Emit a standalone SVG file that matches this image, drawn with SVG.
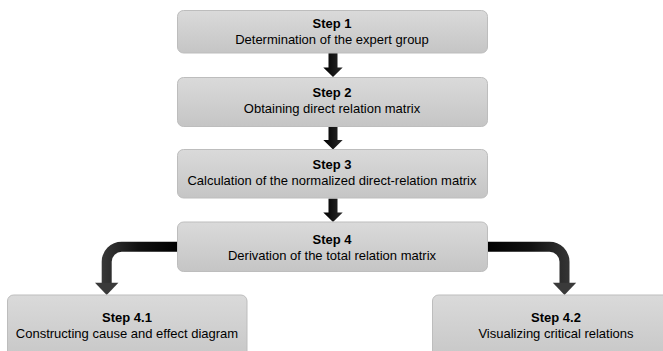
<svg xmlns="http://www.w3.org/2000/svg" width="663" height="351" viewBox="0 0 663 351">
<style>
.box{fill:url(#bg);stroke:#bdbdbd;stroke-width:1}
.t{font-family:"Liberation Sans",Arial,sans-serif;font-size:13px;fill:#000;text-anchor:middle}
.b{font-weight:bold}
.arr{fill:url(#ag)}
.curve{fill:none;stroke-width:10}
</style>
<defs>
<linearGradient id="bg" x1="0" y1="0" x2="0" y2="1">
<stop offset="0" stop-color="#dadada"/>
<stop offset="1" stop-color="#c5c5c5"/>
</linearGradient>
<linearGradient id="ag" x1="0" y1="0" x2="1" y2="0">
<stop offset="0" stop-color="#000"/>
<stop offset="1" stop-color="#2a2a2a"/>
</linearGradient>
<linearGradient id="lg" gradientUnits="userSpaceOnUse" x1="177" y1="0" x2="100" y2="0">
<stop offset="0" stop-color="#000"/>
<stop offset="0.5" stop-color="#111"/>
<stop offset="1" stop-color="#3a3a3a"/>
</linearGradient>
<linearGradient id="rg" gradientUnits="userSpaceOnUse" x1="487" y1="0" x2="575" y2="0">
<stop offset="0" stop-color="#000"/>
<stop offset="0.5" stop-color="#111"/>
<stop offset="1" stop-color="#3a3a3a"/>
</linearGradient>
</defs>
<g id="connectors">
<path class="arr" d="M328.5,53 H337.5 V67.5 H342.7 L333,77 L323.3,67.5 H328.5 Z"/>
<path class="arr" d="M328.5,127 H337.5 V140 H342.7 L333,149.5 L323.3,140 H328.5 Z"/>
<path class="arr" d="M328.5,198.5 H337.5 V212.5 H342.7 L333,222 L323.3,212.5 H328.5 Z"/>
<path class="curve" stroke="url(#lg)" d="M178,246.7 H121.7 A15,15 0 0 0 106.7,261.7 V283.5"/>
<path fill="#3a3a3a" d="M95,282.7 H118.4 L106.7,295 Z"/>
<path class="curve" stroke="url(#rg)" d="M486,246.7 H549.5 A15,15 0 0 1 564.5,261.7 V283.5"/>
<path fill="#3a3a3a" d="M552.8,282.7 H576.2 L564.5,295 Z"/>
</g>
<g id="step1">
<rect class="box" x="177.5" y="10.5" width="310" height="42.5" rx="6"/>
<text class="t b" x="332" y="28.3">Step 1</text>
<text class="t" x="332" y="44.3">Determination of the expert group</text>
</g>
<g id="step2">
<rect class="box" x="177.5" y="77.5" width="310" height="49" rx="6"/>
<text class="t b" x="332" y="96.7">Step 2</text>
<text class="t" x="332" y="112.7">Obtaining direct relation matrix</text>
</g>
<g id="step3">
<rect class="box" x="177.5" y="149.5" width="310" height="48.5" rx="6"/>
<text class="t b" x="332" y="168.5">Step 3</text>
<text class="t" x="332" y="184.5">Calculation of the normalized direct-relation matrix</text>
</g>
<g id="step4">
<rect class="box" x="177.5" y="222" width="310" height="49.5" rx="6"/>
<text class="t b" x="332" y="243.5">Step 4</text>
<text class="t" x="332" y="259.5">Derivation of the total relation matrix</text>
</g>
<g id="step4_1">
<rect class="box" x="7.5" y="295" width="239.5" height="70" rx="6"/>
<text class="t b" x="127" y="321.7">Step 4.1</text>
<text class="t" x="127" y="337.7">Constructing cause and effect diagram</text>
</g>
<g id="step4_2">
<rect class="box" x="432.5" y="295" width="248" height="70" rx="6"/>
<text class="t b" x="556" y="321.7">Step 4.2</text>
<text class="t" x="556" y="337.7">Visualizing critical relations</text>
</g>
</svg>
